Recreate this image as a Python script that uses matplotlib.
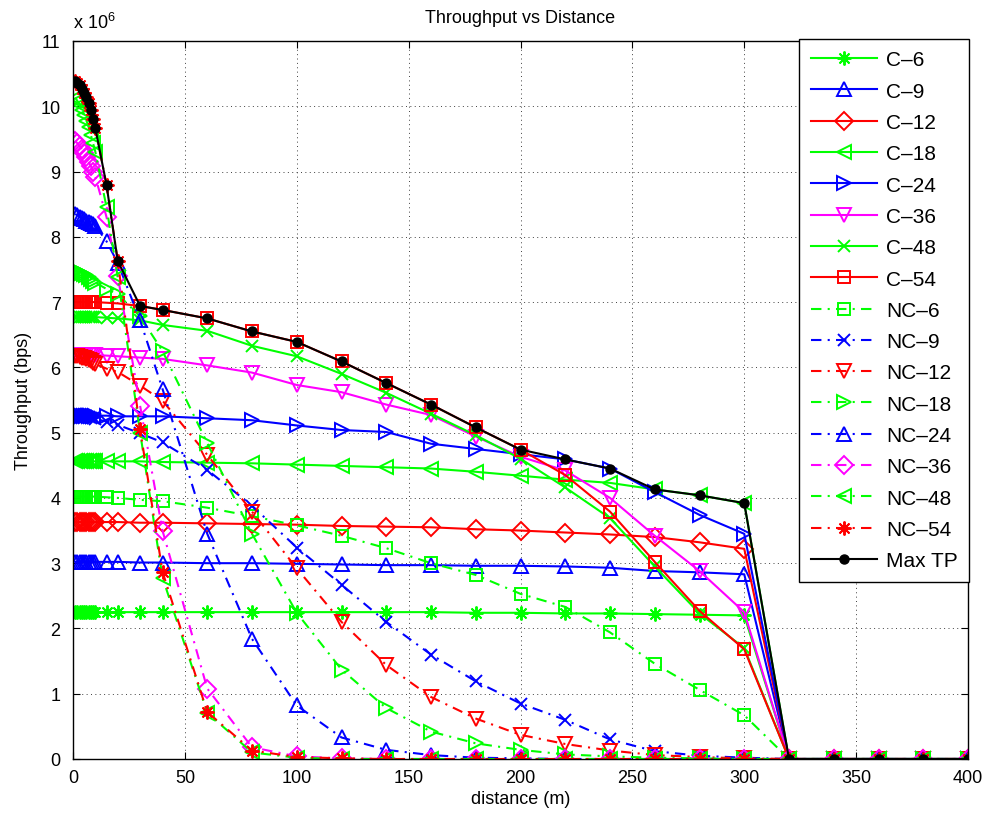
import numpy as np
import matplotlib
matplotlib.use("Agg")
import matplotlib.pyplot as plt

plt.rcParams['font.family'] = ['Liberation Sans', 'DejaVu Sans']
plt.rcParams['mathtext.fontset'] = 'custom'
plt.rcParams['mathtext.rm'] = 'Liberation Sans'

# ---------------------------------------------------------------------------
# Data (throughput in units of 1e6 bps)
# ---------------------------------------------------------------------------

distance = [1, 2, 3, 4, 5, 6, 7, 8, 9, 10, 15, 20, 30, 40, 60, 80, 100, 120,
            140, 160, 180, 200, 220, 240, 260, 280, 300, 320, 340, 360, 380, 400]

tail = [0, 0, 0, 0, 0]

c6 = [2.25] * 10 + [2.25, 2.25, 2.25, 2.25, 2.25, 2.25, 2.25, 2.25, 2.25, 2.25,
                    2.24, 2.24, 2.23, 2.23, 2.22, 2.21, 2.20] + tail
c9 = [3.02] * 10 + [3.02, 3.02, 3.01, 3.01, 3.00, 3.00, 2.99, 2.98, 2.97, 2.97,
                    2.96, 2.96, 2.95, 2.93, 2.88, 2.86, 2.83] + tail
c12 = [3.63] * 10 + [3.63, 3.63, 3.62, 3.62, 3.61, 3.60, 3.59, 3.57, 3.56, 3.55,
                     3.52, 3.50, 3.47, 3.44, 3.40, 3.32, 3.22] + tail
c18 = [4.56] * 10 + [4.56, 4.56, 4.56, 4.55, 4.54, 4.53, 4.51, 4.49, 4.47, 4.45,
                     4.40, 4.34, 4.28, 4.23, 4.13, 4.04, 3.92] + tail
c24 = [5.26] * 10 + [5.26, 5.25, 5.25, 5.25, 5.22, 5.19, 5.11, 5.04, 5.01, 4.83,
                     4.75, 4.67, 4.59, 4.45, 4.09, 3.74, 3.45] + tail
c36 = [6.19] * 10 + [6.18, 6.17, 6.15, 6.13, 6.03, 5.92, 5.73, 5.62, 5.43, 5.27,
                     4.94, 4.63, 4.42, 4.00, 3.42, 2.88, 2.25] + tail
c48 = [6.77] * 10 + [6.76, 6.75, 6.72, 6.65, 6.56, 6.33, 6.17, 5.90, 5.61, 5.29,
                     4.96, 4.60, 4.16, 3.69, 2.95, 2.23, 1.70] + tail
c54 = [7.00] * 10 + [6.99, 6.98, 6.94, 6.88, 6.75, 6.55, 6.39, 6.09, 5.76, 5.43,
                     5.08, 4.74, 4.35, 3.79, 3.02, 2.27, 1.68] + tail

nc6 = [4.02] * 10 + [4.01, 4.00, 3.97, 3.95, 3.85, 3.72, 3.58, 3.42, 3.23, 3.00,
                     2.82, 2.53, 2.33, 1.94, 1.46, 1.06, 0.67] + tail
nc9 = [5.28, 5.28, 5.27, 5.27, 5.26, 5.25, 5.24, 5.23, 5.22, 5.21,
       5.17, 5.12, 4.99, 4.85, 4.43, 3.88, 3.24, 2.67, 2.10, 1.60,
       1.19, 0.85, 0.60, 0.30, 0.12, 0.05, 0.02] + tail
nc12 = [6.18, 6.17, 6.16, 6.15, 6.14, 6.13, 6.11, 6.09, 6.07, 6.05,
        5.98, 5.93, 5.72, 5.49, 4.66, 3.79, 2.92, 2.10, 1.44, 0.95,
        0.62, 0.37, 0.23, 0.13, 0.06, 0.03, 0.01] + tail
nc18 = [7.48, 7.47, 7.46, 7.45, 7.43, 7.41, 7.39, 7.36, 7.33, 7.30,
        7.20, 7.12, 6.78, 6.25, 4.84, 3.45, 2.24, 1.37, 0.78, 0.42,
        0.24, 0.14, 0.07, 0.04, 0.02, 0.01, 0.00] + tail
nc24 = [8.35, 8.33, 8.31, 8.29, 8.27, 8.25, 8.23, 8.21, 8.19, 8.17,
        7.93, 7.60, 6.72, 5.67, 3.45, 1.84, 0.82, 0.33, 0.14, 0.06,
        0.02, 0.01, 0.00, 0.00, 0.00, 0.00, 0.00] + tail
nc36 = [9.47, 9.43, 9.39, 9.34, 9.28, 9.22, 9.15, 9.08, 9.00, 8.92,
        8.30, 7.40, 5.41, 3.50, 1.08, 0.18, 0.04, 0.01, 0.00, 0.00,
        0.00, 0.00, 0.00, 0.00, 0.00, 0.00, 0.00] + tail
nc48 = [10.13, 10.08, 10.02, 9.95, 9.87, 9.78, 9.68, 9.56, 9.43, 9.30,
        8.45, 7.38, 5.00, 2.78, 0.71, 0.10, 0.02, 0.00, 0.00, 0.00,
        0.00, 0.00, 0.00, 0.00, 0.00, 0.00, 0.00] + tail
nc54 = [10.38, 10.36, 10.32, 10.27, 10.21, 10.14, 10.05, 9.94, 9.81, 9.66,
        8.79, 7.63, 5.05, 2.87, 0.72, 0.13, 0.03, 0.01, 0.00, 0.00,
        0.00, 0.00, 0.00, 0.00, 0.00, 0.00, 0.00] + tail

# label, values, color, marker, solid?
series = [
    ("C\u20136",   c6,   "#00ff00", (8, 2, 0), True),
    ("C\u20139",   c9,   "#0000ff", "^", True),
    ("C\u201312",  c12,  "#ff0000", "D", True),
    ("C\u201318",  c18,  "#00ff00", "<", True),
    ("C\u201324",  c24,  "#0000ff", ">", True),
    ("C\u201336",  c36,  "#ff00ff", "v", True),
    ("C\u201348",  c48,  "#00ff00", "x", True),
    ("C\u201354",  c54,  "#ff0000", "s", True),
    ("NC\u20136",  nc6,  "#00ff00", "s", False),
    ("NC\u20139",  nc9,  "#0000ff", "x", False),
    ("NC\u201312", nc12, "#ff0000", "v", False),
    ("NC\u201318", nc18, "#00ff00", ">", False),
    ("NC\u201324", nc24, "#0000ff", "^", False),
    ("NC\u201336", nc36, "#ff00ff", "D", False),
    ("NC\u201348", nc48, "#00ff00", "<", False),
    ("NC\u201354", nc54, "#ff0000", (8, 2, 0), False),
]

max_tp = np.max(np.array([s[1] for s in series]), axis=0)

# ---------------------------------------------------------------------------
# Plot
# ---------------------------------------------------------------------------

fig = plt.figure(figsize=(9.89, 8.2), dpi=100)
ax = fig.add_axes([73 / 989, 60 / 820, 895 / 989, 718 / 820])

x = np.array(distance)
msize = {"D": 9, "s": 9, "x": 8.5, (8, 2, 0): 10}
for label, vals, color, marker, solid in series:
    y = np.array(vals) * 1e6
    ms = msize.get(marker, 10.5)
    if solid:
        ax.plot(x, y, color=color, lw=1.5, marker=marker, ms=ms,
                mfc="none", mec=color, mew=1.4, label=label)
    else:
        ax.plot(x, y, color=color, lw=1.5, marker=marker, ms=ms,
                mfc="none", mec=color, mew=1.4, label=label,
                dashes=(5, 3, 1, 3))

ax.plot(x, max_tp * 1e6, color="k", lw=1.5, marker="o", ms=6.5,
        mfc="k", mec="k", label="Max TP")

ax.set_xlim(0, 400)
ax.set_ylim(0, 11e6)
ax.set_xticks(np.arange(0, 401, 50))
ax.set_yticks(np.arange(0, 11.01e6, 1e6))
ax.set_yticklabels([str(i) for i in range(12)])
ax.tick_params(direction="in", top=True, right=True, labelsize=13, length=5)
ax.tick_params(axis="y", pad=9)
ax.tick_params(axis="x", pad=7)
ax.grid(True, color="0.25", lw=0.7, dashes=(1, 3.5))
for sp in ax.spines.values():
    sp.set_linewidth(1.0)

ax.text(0.0, 1.012, r"x 10$^{6}$", transform=ax.transAxes, fontsize=13,
        ha="left", va="bottom")
ax.set_title("Throughput vs Distance", fontsize=13, pad=14)
ax.set_xlabel("distance (m)", fontsize=13, labelpad=3)
ax.set_ylabel("Throughput (bps)", fontsize=13, labelpad=6)

leg = ax.legend(loc="upper right", bbox_to_anchor=(969 / 989, 780 / 820),
                bbox_transform=fig.transFigure, borderaxespad=0,
                fontsize=15, handlelength=3.2, handletextpad=0.4,
                labelspacing=0.59, borderpad=0.55, fancybox=False,
                edgecolor="k", framealpha=1)
leg.get_frame().set_linewidth(1.0)

fig.savefig("out.png", dpi=100)
